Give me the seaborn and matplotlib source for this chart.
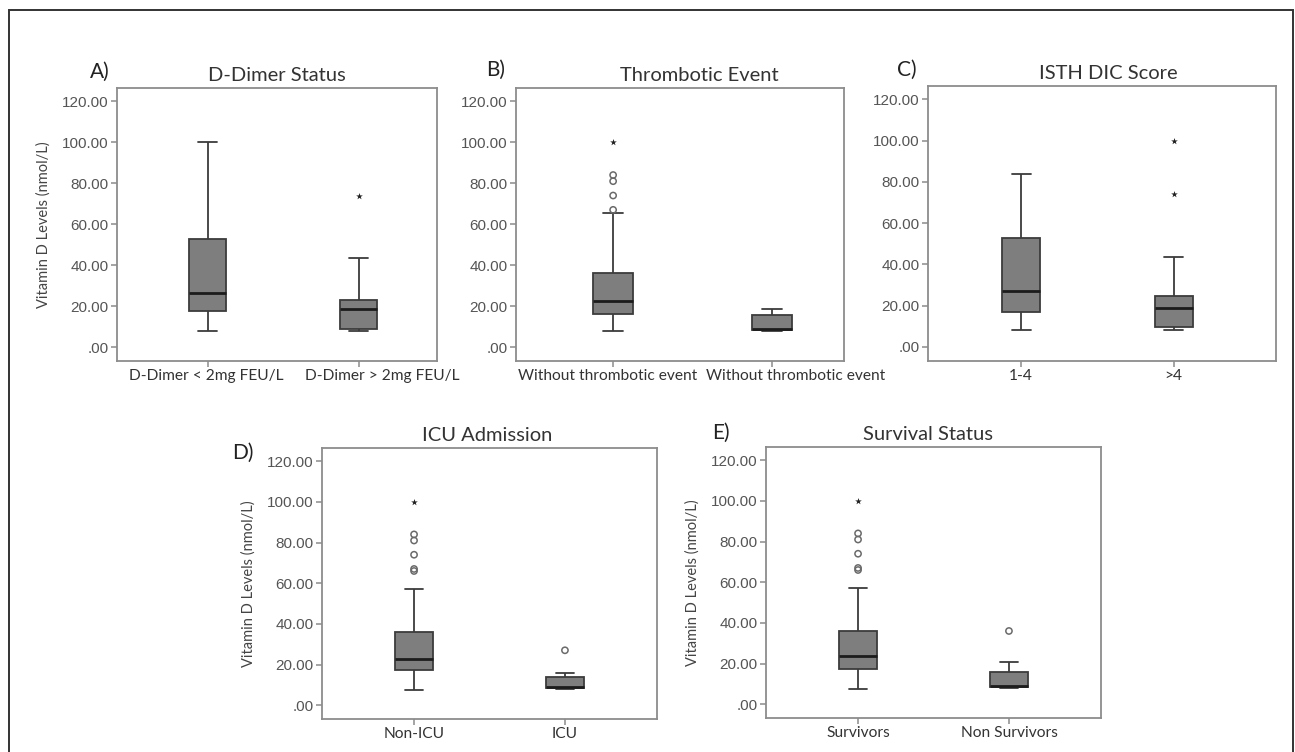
import numpy as np
import pandas as pd
import seaborn as sns
import matplotlib.pyplot as plt
from matplotlib.patches import Rectangle
from matplotlib.transforms import ScaledTranslation

# values
# box = [low whisker, Q1, median, Q3, high whisker]; out = open circles; ext = extremes (*)
ddimer_labels = ['D-Dimer < 2mg FEU/L', 'D-Dimer > 2mg FEU/L']
ddimer_box = [[8, 17.5, 26.5, 53, 100], [8, 9, 18.5, 23, 43.5]]
ddimer_out = [[], []]
ddimer_ext = [[], [74]]

thromb_labels = ['Without thrombotic event', 'Without thrombotic event']
thromb_box = [[8, 16, 22.5, 36, 65.5], [8, 8.5, 9, 15.5, 18.5]]
thromb_out = [[67, 74, 81, 84], []]
thromb_ext = [[100], []]

isth_labels = ['1-4', '>4']
isth_box = [[8, 17, 27, 53, 84], [8, 9.5, 19, 24.5, 43.5]]
isth_out = [[], []]
isth_ext = [[], [74, 100]]

icu_labels = ['Non-ICU', 'ICU']
icu_box = [[7.5, 17.5, 22.5, 36, 57], [8, 8.5, 9, 14, 16]]
icu_out = [[66, 67, 74, 81, 84], [27]]
icu_ext = [[100], []]

surv_labels = ['Survivors', 'Non Survivors']
surv_box = [[7.5, 17.5, 23.5, 36, 57], [8, 8.5, 9, 16, 20.5]]
surv_out = [[66, 67, 74, 81, 84], [36]]
surv_ext = [[100], []]

ytick_vals = [0, 20, 40, 60, 80, 100, 120]
ytick_labels = ['.00', '20.00', '40.00', '60.00', '80.00', '100.00', '120.00']
ylab = 'Vitamin D Levels (nmol/L)'

sns.set_style('ticks')
plt.rcParams['font.family'] = ['Lato', 'DejaVu Sans']

W, H = 1295, 752
fig = plt.figure(figsize=(W / 100, H / 100), dpi=100)

box_col = '#7e7e7e'
line_col = '#3c3c3c'
grey = '#8c8c8c'


def px_axes(left, right, top, bottom):
    return fig.add_axes([left / W, 1 - bottom / H, (right - left) / W, (bottom - top) / H])


def long_df(keys, groups):
    grp = [k for k, v in zip(keys, groups) for _ in v]
    val = [x for v in groups for x in v]
    return pd.DataFrame({'grp': grp, 'val': val})


def draw_panel(ax, labels, box, out, ext, title, xlim, title_x=0.5,
               label_shift=(0, 0), show_ylab=True):
    keys = ['g1', 'g2']
    sns.boxplot(data=long_df(keys, box), x='grp', y='val', order=keys, ax=ax,
                whis=np.inf, width=0.25, color=box_col, saturation=1,
                linecolor=line_col, linewidth=1.3, showfliers=False,
                medianprops={'color': '#1c1c1c', 'linewidth': 2})
    d_out = long_df(keys, out)
    if len(d_out):
        n0 = len(ax.collections)
        sns.stripplot(data=d_out, x='grp', y='val', order=keys, ax=ax, jitter=False,
                      marker='o', size=4.5, color='#777777', edgecolor='#6a6a6a',
                      linewidth=1.1)
        for coll in ax.collections[n0:]:
            coll.set_facecolor('none')
    d_ext = long_df(keys, ext)
    if len(d_ext):
        sns.stripplot(data=d_ext, x='grp', y='val', order=keys, ax=ax, jitter=False,
                      marker='*', size=5, color='#202020', linewidth=0)

    ax.set_xlim(*xlim)
    ax.set_ylim(-6.8, 126.5)
    ax.set_yticks(ytick_vals)
    ax.set_yticklabels(ytick_labels, family='Liberation Sans', fontsize=11, color='#555555')
    ax.set_xticks([0, 1])
    ax.set_xticklabels(labels, fontsize=11.2, color='#333333')
    ax.tick_params(axis='both', length=4, width=1.1, color=grey, pad=2)
    # labels nudged sideways like in the original so long ones don't collide
    # (done after tick_params, which resets the label transforms)
    for lab, dx in zip(ax.get_xticklabels(), label_shift):
        lab.set_transform(lab.get_transform() + ScaledTranslation(dx / 100, 0, fig.dpi_scale_trans))
    ax.set_xlabel('')
    ax.set_ylabel(ylab if show_ylab else '', fontsize=10.5, color='#444444', labelpad=8)
    ax.set_title(title, fontsize=14.5, color='#333333', pad=5, x=title_x)
    for sp in ax.spines.values():
        sp.set_color(grey)
        sp.set_linewidth(1.3)


ax_a = px_axes(117, 437, 88, 361)
ax_b = px_axes(516, 844, 88, 361)
ax_c = px_axes(928, 1276, 86, 361)
ax_d = px_axes(322, 657, 448, 719)
ax_e = px_axes(766, 1101, 447, 718)

draw_panel(ax_a, ddimer_labels, ddimer_box, ddimer_out, ddimer_ext, 'D-Dimer Status',
           (-0.6, 1.52), label_shift=(-1, 24))
draw_panel(ax_b, thromb_labels, thromb_box, thromb_out, thromb_ext, 'Thrombotic Event',
           (-0.61, 1.45), title_x=0.558, label_shift=(-6, 23), show_ylab=False)
draw_panel(ax_c, isth_labels, isth_box, isth_out, isth_ext, 'ISTH DIC Score',
           (-0.61, 1.67), title_x=0.517, show_ylab=False)
draw_panel(ax_d, icu_labels, icu_box, icu_out, icu_ext, 'ICU Admission',
           (-0.61, 1.61), title_x=0.493)
draw_panel(ax_e, surv_labels, surv_box, surv_out, surv_ext, 'Survival Status',
           (-0.61, 1.61), title_x=0.484)

# panel letters
for letter, (x, y) in zip(['A)', 'B)', 'C)', 'D)', 'E)'],
                          [(100, 72), (496, 70), (907, 70), (243, 453), (721, 433)]):
    fig.text(x / W, 1 - y / H, letter, ha='center', va='center', fontsize=15, color='#222222')

# outer frame of the figure
fig.add_artist(Rectangle((9 / W, -0.05), (1293 - 9) / W, 1.05 - 10 / H,
                         transform=fig.transFigure, fill=False, edgecolor='#333333', lw=1.4))

fig.savefig('out.png', dpi=100)
